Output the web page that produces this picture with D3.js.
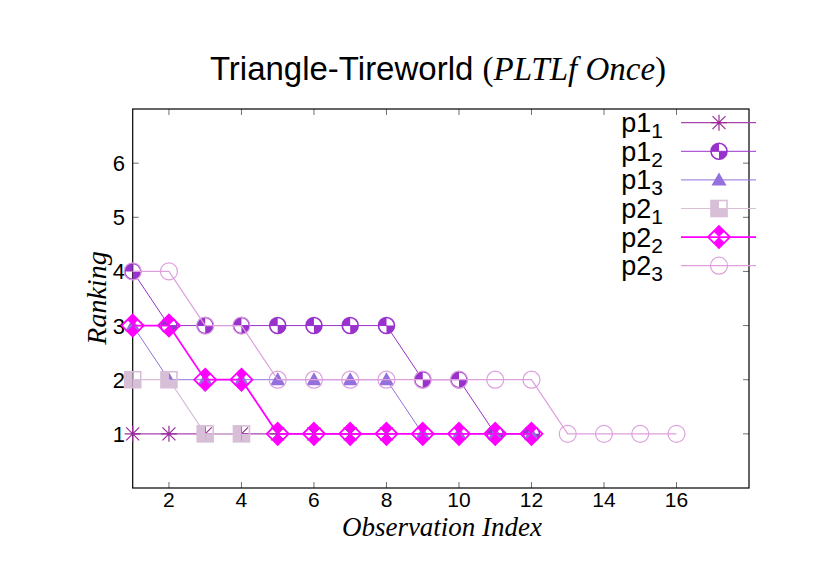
<!DOCTYPE html>
<html><head><meta charset="utf-8">
<script src="https://cdn.jsdelivr.net/npm/d3@7"></script>
<style>body{margin:0;background:#fff}svg{display:block}</style>
</head><body>
<svg id="c" width="830" height="587"></svg>
<script>
const obs = [1,2,3,4,5,6,7,8,9,10,11,12,13,14,15,16];
const p1_1 = [1,1,1,1,1,1,1,1];
const p1_2 = [4,3,3,3,3,3,3,3,2,2,1,1];
const p1_3 = [3,2,2,2,2,2,2,2,1,1,1,1];
const p2_1 = [2,2,1,1];
const p2_2 = [3,3,2,2,1,1,1,1,1,1,1,1];
const p2_3 = [4,4,3,3,2,2,2,2,2,2,2,2,1,1,1,1];
const seriesNames = [["p1","1"],["p1","2"],["p1","3"],["p2","1"],["p2","2"],["p2","3"]];
const xTicks = [2,4,6,8,10,12,14,16];
const yTicks = [1,2,3,4,5,6];

const series = [
  {vals:p1_1, color:"#9a2a9a", line:"#a844b0", lw:1.2, marker:"star"},
  {vals:p1_2, color:"#9932cc", line:"#9932cc", lw:1, marker:"qcircle"},
  {vals:p1_3, color:"#9370db", line:"#9370db", lw:1, marker:"tri"},
  {vals:p2_1, color:"#d8bfd8", line:"#d8bfd8", lw:1.2, marker:"qsquare"},
  {vals:p2_2, color:"#ff00ff", line:"#ff00ff", lw:1.8, marker:"qdiamond"},
  {vals:p2_3, color:"#dda0dd", line:"#dda0dd", lw:1.2, marker:"ocircle"}
];

const svg = d3.select("#c");
const L=132.7, R=749, T=109, B=488;
const x = d3.scaleLinear().domain([1,18]).range([L,R]);
const y = d3.scaleLinear().domain([0,7]).range([B,T]);

// title
const title = svg.append("text").attr("x",438).attr("y",80).attr("text-anchor","middle")
  .attr("font-family","Liberation Sans, Arial, sans-serif").attr("font-size",33).attr("fill","#000");
title.append("tspan").text("Triangle-Tireworld ");
title.append("tspan").attr("font-family","Liberation Serif, Times New Roman, serif").text("(");
title.append("tspan").attr("font-family","Liberation Serif, Times New Roman, serif").attr("font-style","italic").text("PLTLf Once");
title.append("tspan").attr("font-family","Liberation Serif, Times New Roman, serif").text(")");

// axes ticks
const tickColor = "#707070";
const tickLen = 6;
const gx = svg.append("g");
xTicks.forEach(t=>{
  gx.append("line").attr("x1",x(t)).attr("x2",x(t)).attr("y1",B).attr("y2",B-tickLen).attr("stroke",tickColor);
  gx.append("line").attr("x1",x(t)).attr("x2",x(t)).attr("y1",T).attr("y2",T+tickLen).attr("stroke",tickColor);
  gx.append("text").attr("x",x(t)).attr("y",507).attr("text-anchor","middle")
    .attr("font-family","Liberation Sans, Arial, sans-serif").attr("font-size",21).text(t);
});
yTicks.forEach(t=>{
  gx.append("line").attr("x1",L).attr("x2",L+tickLen).attr("y1",y(t)).attr("y2",y(t)).attr("stroke",tickColor);
  gx.append("line").attr("x1",R).attr("x2",R-tickLen).attr("y1",y(t)).attr("y2",y(t)).attr("stroke",tickColor);
  gx.append("text").attr("x",125).attr("y",y(t)+8).attr("text-anchor","end")
    .attr("font-family","Liberation Sans, Arial, sans-serif").attr("font-size",22).text(t);
});

// frame
svg.append("rect").attr("x",L).attr("y",T).attr("width",R-L).attr("height",B-T)
  .attr("fill","none").attr("stroke","#000").attr("stroke-width",1.2);

// axis labels
svg.append("text").attr("transform","translate(106,298) rotate(-90)").attr("text-anchor","middle")
  .attr("font-family","Liberation Serif, Times New Roman, serif").attr("font-style","italic").attr("font-size",28).text("Ranking");
svg.append("text").attr("x",442).attr("y",536).attr("text-anchor","middle")
  .attr("font-family","Liberation Serif, Times New Roman, serif").attr("font-style","italic").attr("font-size",27).text("Observation Index");

// markers
function drawMarker(g, type, cx, cy, color){
  const m = g.append("g").attr("transform",`translate(${cx},${cy})`);
  if(type==="star"){
    const s=8, d=6.5;
    m.append("path").attr("d",`M${-s},0H${s}M0,${-s}V${s}M${-d},${-d}L${d},${d}M${-d},${d}L${d},${-d}`)
      .attr("stroke",color).attr("stroke-width",1.2).attr("fill","none");
  } else if(type==="qcircle"){
    const r=8;
    m.append("path").attr("d",`M0,0L${-r},0A${r},${r} 0 0 1 0,${-r}Z`).attr("fill",color);
    m.append("path").attr("d",`M0,0L${r},0A${r},${r} 0 0 1 0,${r}Z`).attr("fill",color);
    m.append("circle").attr("r",r).attr("fill","none").attr("stroke",color).attr("stroke-width",1.6);
  } else if(type==="tri"){
    const h=7.5;
    m.append("path").attr("d",`M0,${-h}L${h},${h*0.75}L${-h},${h*0.75}Z`).attr("fill",color);
  } else if(type==="qsquare"){
    const s=8;
    m.append("path").attr("d",`M${-s},${-s}H0V${s}H${-s}Z`).attr("fill",color);
    m.append("path").attr("d",`M0,0H${s}V${s}H0Z`).attr("fill",color);
    m.append("rect").attr("x",-s).attr("y",-s).attr("width",2*s).attr("height",2*s)
      .attr("fill","none").attr("stroke",color).attr("stroke-width",1.6);
  } else if(type==="qdiamond"){
    const s=11, h=s/2;
    m.append("path").attr("d",`M0,${-s}L${h},${-h}L0,0L${-h},${-h}Z`).attr("fill",color);
    m.append("path").attr("d",`M0,${s}L${h},${h}L0,0L${-h},${h}Z`).attr("fill",color);
    m.append("path").attr("d",`M0,${-s}L${s},0L0,${s}L${-s},0Z`).attr("fill","none")
      .attr("stroke",color).attr("stroke-width",1.8);
  } else if(type==="ocircle"){
    m.append("circle").attr("r",8.5).attr("fill","none").attr("stroke",color).attr("stroke-width",1.2);
  }
}

const lineGen = d3.line().x(d=>x(d[0])).y(d=>y(d[1]));
const plot = svg.append("g");
series.forEach(s=>{
  const pts = s.vals.map((v,i)=>[obs[i],v]);
  plot.append("path").attr("d",lineGen(pts)).attr("fill","none").attr("stroke",s.line).attr("stroke-width",s.lw);
  pts.forEach(p=>drawMarker(plot, s.marker, x(p[0]), y(p[1]), s.color));
});

// legend
const legY0 = 122.7, legDy = 28.6;
series.forEach((s,i)=>{
  const cy = legY0 + i*legDy;
  svg.append("line").attr("x1",681).attr("x2",756).attr("y1",cy).attr("y2",cy)
    .attr("stroke",s.line).attr("stroke-width",s.lw);
  drawMarker(svg, s.marker, 719, cy, s.color);
  const t = svg.append("text").attr("x",663).attr("y",cy+9.5).attr("text-anchor","end")
    .attr("font-family","Liberation Sans, Arial, sans-serif").attr("font-size",27);
  t.append("tspan").text(seriesNames[i][0]);
  t.append("tspan").attr("font-size",21).attr("dy",6).text(seriesNames[i][1]);
});
</script>
</body></html>
